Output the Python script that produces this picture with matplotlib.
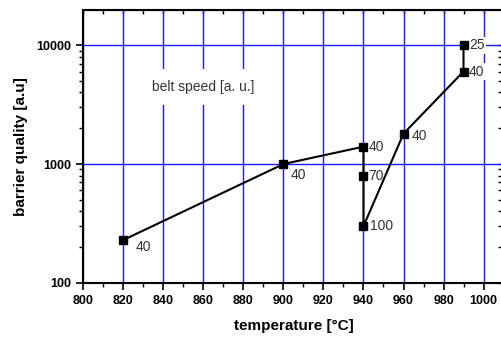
import matplotlib.pyplot as plt
from matplotlib.ticker import LogLocator, MultipleLocator, NullFormatter

plt.rcParams['font.family'] = ['Liberation Sans', 'DejaVu Sans']

# data: path followed through the process window
temperature = [820, 900, 940, 940, 940, 960, 990, 990]
quality = [230, 1000, 1400, 800, 300, 1800, 6000, 10000]
belt_speed = ['40', '40', '40', '70', '100', '40', '40', '25']
label_offsets = [(9, -5), (5, -8), (3.5, 0), (3.5, 0), (5, 0), (6, -2), (4, 0), (4, 0)]

fig = plt.figure(figsize=(5.02, 3.38), dpi=100)
ax = fig.add_axes([0.1663, 0.163, 0.8367, 0.807])

ax.set_yscale('log')
ax.set_xlim(800, 1010)
ax.set_ylim(100, 19700)

# blue grid
ax.grid(True, which='major', color='#1a1aff', linewidth=1.0)
ax.set_axisbelow(True)

ax.plot(temperature, quality, color='black', linewidth=1.5, marker='s',
        markersize=5.5, zorder=3)

# white boxes hide the grid but stay under the curve
for x, y, s, off in zip(temperature, quality, belt_speed, label_offsets):
    ax.annotate(s, (x, y), xytext=off, textcoords='offset points',
                ha='left', va='center', fontsize=10, color='#333333',
                bbox=dict(facecolor='white', edgecolor='none', pad=1.0),
                zorder=2.5)

ax.text(860, 4440, 'belt speed [a. u.]', ha='center', va='center',
        fontsize=10, color='#333333',
        bbox=dict(facecolor='white', edgecolor='none', pad=8), zorder=2.5)

ax.xaxis.set_major_locator(MultipleLocator(20))
ax.xaxis.set_minor_locator(MultipleLocator(10))
ax.yaxis.set_minor_locator(LogLocator(base=10, subs=range(2, 10)))
ax.yaxis.set_minor_formatter(NullFormatter())
ax.set_yticks([100, 1000, 10000])
ax.set_yticklabels(['100', '1000', '10000'])

ax.tick_params(axis='both', which='major', direction='out', length=5,
               width=1.2, labelsize=9)
ax.tick_params(axis='both', which='minor', direction='out', length=3,
               width=1.0)
for lab in ax.get_xticklabels() + ax.get_yticklabels():
    lab.set_fontweight('bold')

# inward ticks on top and right
top = ax.secondary_xaxis('top')
top.xaxis.set_major_locator(MultipleLocator(10))
top.tick_params(direction='in', length=3, width=1.0, labeltop=False)
right = ax.secondary_yaxis('right')
right.yaxis.set_major_locator(LogLocator(base=10))
right.yaxis.set_minor_locator(LogLocator(base=10, subs=range(2, 10)))
right.tick_params(which='both', direction='in', length=4, width=1.0,
                  labelright=False)

for side in ['left', 'bottom', 'top']:
    ax.spines[side].set_linewidth(1.5)

ax.set_xlabel('temperature [°C]', fontsize=11, fontweight='bold', labelpad=9)
ax.set_ylabel('barrier quality [a.u]', fontsize=11, fontweight='bold', labelpad=6)

fig.savefig('out.png', dpi=100)
